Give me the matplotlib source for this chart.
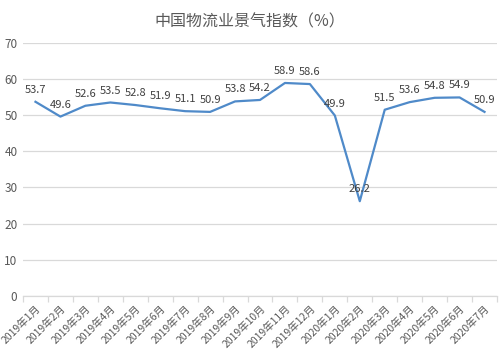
import numpy as np
import matplotlib.pyplot as plt

plt.rcParams['font.family'] = ['Noto Sans CJK SC', 'DejaVu Sans']

# months and index values
months = ['2019年1月', '2019年2月', '2019年3月', '2019年4月', '2019年5月', '2019年6月',
          '2019年7月', '2019年8月', '2019年9月', '2019年10月', '2019年11月', '2019年12月',
          '2020年1月', '2020年2月', '2020年3月', '2020年4月', '2020年5月', '2020年6月',
          '2020年7月']
lpi = [53.7, 49.6, 52.6, 53.5, 52.8, 51.9, 51.1, 50.9, 53.8, 54.2, 58.9, 58.6,
       49.9, 26.2, 51.5, 53.6, 54.8, 54.9, 50.9]

fig = plt.figure(figsize=(5, 3.54), dpi=100)
ax = fig.add_axes([0.046, 0.164, 0.948, 0.715])

x = np.arange(len(months))
ax.plot(x, lpi, color='#4f8ac9', linewidth=1.6, solid_joinstyle='round')

for xi, v in zip(x, lpi):
    ax.annotate(f'{v:.1f}', (xi, v), xytext=(0, 5), textcoords='offset points',
                ha='center', va='bottom', fontsize=8, color='#404040')

ax.set_xlim(-0.5, len(months) - 0.5)
ax.set_ylim(0, 70)
ax.set_yticks(range(0, 71, 10))
ax.grid(axis='y', color='#d9d9d9', linewidth=0.9)
ax.set_axisbelow(True)

# category ticks sit between the points
ax.set_xticks(x)
ax.set_xticklabels(months, rotation=45, ha='right', rotation_mode='anchor',
                   fontsize=7.5, color='#595959')
ax.set_xticks(np.arange(-0.5, len(months), 1), minor=True)
ax.tick_params(axis='x', which='major', length=0, pad=5)
ax.tick_params(axis='x', which='minor', length=4, color='#d9d9d9', width=0.9)
ax.tick_params(axis='y', length=0, labelsize=8.5, labelcolor='#595959', pad=4)

for s in ['top', 'right', 'left']:
    ax.spines[s].set_visible(False)
ax.spines['bottom'].set_color('#d9d9d9')
ax.spines['bottom'].set_linewidth(0.9)

fig.text(0.5, 0.937, '中国物流业景气指数（%）', ha='center', va='center',
         fontsize=11.5, color='#595959')

fig.savefig('out.png', dpi=100)
